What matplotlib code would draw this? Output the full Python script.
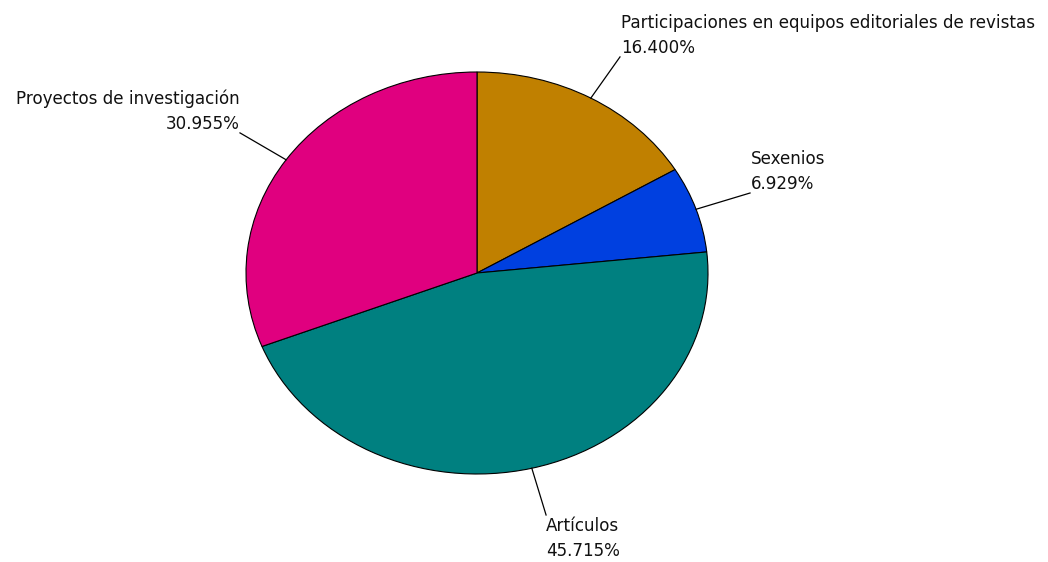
import matplotlib
matplotlib.use("Agg")
import matplotlib.pyplot as plt
import numpy as np

labels = ["Participaciones en equipos editoriales de revistas", "Sexenios", "Artículos", "Proyectos de investigación"]
values = [16.400, 6.929, 45.715, 30.955]
colors = ["#C08000", "#0040E0", "#008080", "#E0007F"]

# label anchor positions (data coords, pie radius = 1) and alignment
label_pos = [(0.619, 1.075), (1.182, 0.398), (0.299, -1.204), (-1.026, 0.697)]
label_ha = ["left", "left", "left", "right"]
label_va = ["bottom", "bottom", "top", "bottom"]
text_offset = [(0.004, 0.0), (0.004, 0.0), (0.0, -0.01), (0.0, 0.0)]

W, H = 1048, 562
fig = plt.figure(figsize=(W / 100, H / 100), dpi=100)
cx, cy, rx, ry = 477, 273, 231, 201
ax = fig.add_axes([(cx - rx) / W, (H - cy - ry) / H, 2 * rx / W, 2 * ry / H])

wedges, _ = ax.pie(values, colors=colors, startangle=90, counterclock=False,
                   wedgeprops=dict(edgecolor="black", linewidth=0.8), radius=1)
ax.set_aspect("auto")
ax.set_xlim(-1, 1)
ax.set_ylim(-1, 1)
ax.axis("off")

total = sum(values)
cum = 0
for i, v in enumerate(values):
    mid = 90 - (cum + v / 2) / total * 360
    cum += v
    x0, y0 = np.cos(np.radians(mid)), np.sin(np.radians(mid))
    x1, y1 = label_pos[i]
    ax.plot([x0, x1], [y0, y1], color="black", linewidth=0.9, clip_on=False)
    ax.text(x1 + text_offset[i][0], y1 + text_offset[i][1],
            f"{labels[i]}\n{v:.3f}%", ha=label_ha[i], va=label_va[i],
            multialignment=label_ha[i], fontsize=12.1, family="DejaVu Sans",
            linespacing=1.5, color="#111111")

fig.savefig("out.png", dpi=100)
